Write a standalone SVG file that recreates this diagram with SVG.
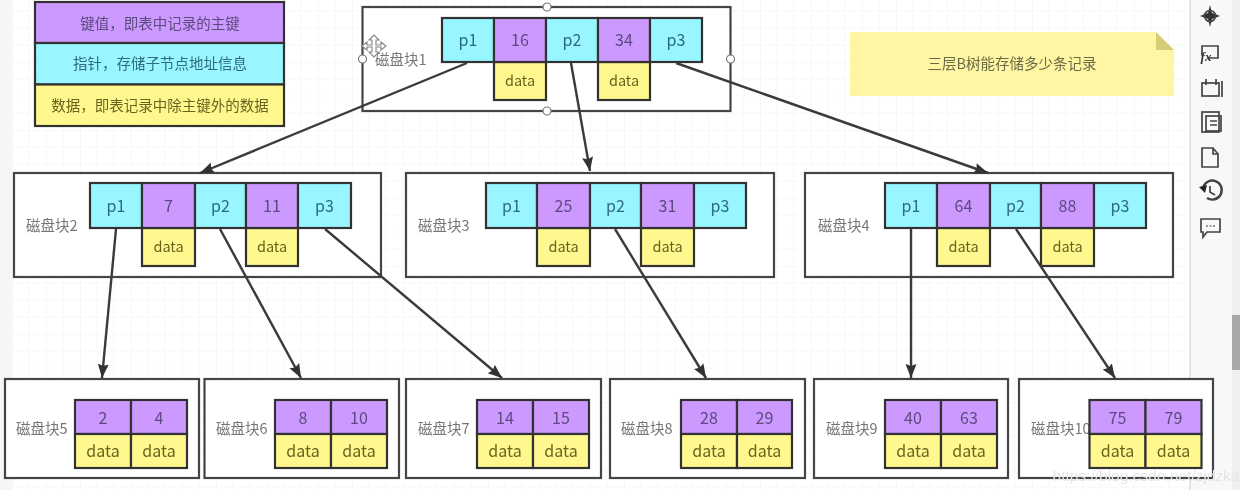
<svg xmlns="http://www.w3.org/2000/svg" width="1240" height="490" viewBox="0 0 1240 490">
<style>
text{font-family:"Noto Sans CJK SC","Noto Sans",sans-serif;text-anchor:middle;dominant-baseline:central;font-size:14.5px;transform:translateY(-1.5px)}
.box{fill:#fff;stroke:#444;stroke-width:2.2}
.k,.p,.d{stroke:#333;stroke-width:2.2}
.k{fill:#cc99ff}.p{fill:#99f5ff}.d{fill:#fff88f}
.tk{fill:#5b4a80}.tp{fill:#2c6c7c}.td{fill:#69631f}
.tl{fill:#757575;text-anchor:start}
.big{font-size:16px}
.e{stroke:#3a3a3a;stroke-width:2.4;fill:none;marker-end:url(#a)}
.h{fill:#fff;stroke:#777;stroke-width:1.2}
.i{fill:none;stroke:#444;stroke-width:1.7}
</style>
<defs>
<marker id="a" markerUnits="userSpaceOnUse" markerWidth="16" markerHeight="14" refX="14" refY="6" orient="auto"><path d="M0 0.500L14 6L0 11.500L2 6Z" fill="#333"/></marker>
<pattern id="g" x="12" y="-6" width="68" height="68" patternUnits="userSpaceOnUse">
<path d="M17 0V68M34 0V68M51 0V68M0 17H68M0 34H68M0 51H68" fill="none" stroke="#f7f7f7" stroke-width="1"/>
<path d="M0 0V68M0 0H68" fill="none" stroke="#efefef" stroke-width="1"/>
</pattern>
<filter id="b" x="0" y="0" width="100%" height="100%"><feGaussianBlur stdDeviation="0.5"/></filter>
</defs>
<g filter="url(#b)">
<rect width="1240" height="490" fill="#fff"/>
<rect x="12" width="1178" height="490" fill="url(#g)"/>
<rect width="12" height="490" fill="#f6f6f6"/>
<rect x="1190" width="42" height="490" fill="#f8f8f8"/>
<path d="M1190 0V490" stroke="#dcdcdc" stroke-width="1.500"/>
<rect x="1232" width="8" height="490" fill="#efefef"/>
<rect x="1232" y="315" width="8" height="55" fill="#a8a8a8"/>

<g id="legend">
<rect class="k" x="35" y="2" width="249" height="41"/><text class="tk" x="160" y="24">键值，即表中记录的主键</text>
<rect class="p" x="35" y="43" width="249" height="41.500"/><text class="tp" x="160" y="64">指针，存储子节点地址信息</text>
<rect class="d" x="35" y="84.500" width="249" height="41.500"/><text class="td" x="160" y="106">数据，即表记录中除主键外的数据</text>
</g>

<g id="note">
<path d="M850 32H1156L1174 50V96H850Z" fill="#fff6a3"/>
<path d="M1156 32L1174 50H1156Z" fill="#d6cd78"/>
<text x="1012" y="64" fill="#6a6a45">三层B树能存储多少条记录</text>
</g>

<g id="block1">
<rect class="box" x="362.500" y="7" width="368" height="104"/>
<text class="tl" x="375" y="60">磁盘块1</text>
<rect class="d" x="494" y="62" width="52" height="38"/><text class="td" x="520" y="81">data</text>
<rect class="d" x="598" y="62" width="52" height="38"/><text class="td" x="624" y="81">data</text>
<rect class="p" x="442" y="18" width="52" height="44"/><text class="tp big" x="468" y="40">p1</text>
<rect class="k" x="494" y="18" width="52" height="44"/><text class="tk big" x="520" y="40">16</text>
<rect class="p" x="546" y="18" width="52" height="44"/><text class="tp big" x="572" y="40">p2</text>
<rect class="k" x="598" y="18" width="52" height="44"/><text class="tk big" x="624" y="40">34</text>
<rect class="p" x="650" y="18" width="52" height="44"/><text class="tp big" x="676" y="40">p3</text>
<circle class="h" cx="547" cy="7" r="4"/><circle class="h" cx="547" cy="111" r="4"/><circle class="h" cx="362.500" cy="59" r="4"/><circle class="h" cx="730.500" cy="59" r="4"/>
<path d="M374 35l5 5h-3v5h5v-3l5 4-5 4v-3h-5v5h3l-5 5-5-5h3v-5h-5v3l-5-4 5-4v3h5v-5h-3Z" fill="#fff" stroke="#888" stroke-width="1.200"/>
</g>

<g id="block2">
<rect class="box" x="14" y="173" width="367" height="104"/>
<text class="tl" x="26" y="226">磁盘块2</text>
<rect class="d" x="142" y="228" width="53" height="38"/><text class="td" x="168.500" y="247">data</text>
<rect class="d" x="246" y="228" width="52" height="38"/><text class="td" x="272" y="247">data</text>
<rect class="p" x="90" y="183" width="52" height="45"/><text class="tp big" x="116" y="206">p1</text>
<rect class="k" x="142" y="183" width="53" height="45"/><text class="tk big" x="168.500" y="206">7</text>
<rect class="p" x="195" y="183" width="51" height="45"/><text class="tp big" x="220.500" y="206">p2</text>
<rect class="k" x="246" y="183" width="52" height="45"/><text class="tk big" x="272" y="206">11</text>
<rect class="p" x="298" y="183" width="53" height="45"/><text class="tp big" x="324.500" y="206">p3</text>
</g>

<g id="block3">
<rect class="box" x="406" y="173" width="368" height="104"/>
<text class="tl" x="418" y="226">磁盘块3</text>
<rect class="d" x="537" y="228" width="53" height="38"/><text class="td" x="563.500" y="247">data</text>
<rect class="d" x="641" y="228" width="53" height="38"/><text class="td" x="667.500" y="247">data</text>
<rect class="p" x="486" y="183" width="51" height="45"/><text class="tp big" x="511.500" y="206">p1</text>
<rect class="k" x="537" y="183" width="53" height="45"/><text class="tk big" x="563.500" y="206">25</text>
<rect class="p" x="590" y="183" width="51" height="45"/><text class="tp big" x="615.500" y="206">p2</text>
<rect class="k" x="641" y="183" width="53" height="45"/><text class="tk big" x="667.500" y="206">31</text>
<rect class="p" x="694" y="183" width="52" height="45"/><text class="tp big" x="720" y="206">p3</text>
</g>

<g id="block4">
<rect class="box" x="805" y="173" width="368" height="104"/>
<text class="tl" x="818" y="226">磁盘块4</text>
<rect class="d" x="937" y="228" width="53" height="38"/><text class="td" x="963.500" y="247">data</text>
<rect class="d" x="1041" y="228" width="53" height="38"/><text class="td" x="1067.500" y="247">data</text>
<rect class="p" x="885" y="183" width="52" height="45"/><text class="tp big" x="911" y="206">p1</text>
<rect class="k" x="937" y="183" width="53" height="45"/><text class="tk big" x="963.500" y="206">64</text>
<rect class="p" x="990" y="183" width="51" height="45"/><text class="tp big" x="1015.500" y="206">p2</text>
<rect class="k" x="1041" y="183" width="53" height="45"/><text class="tk big" x="1067.500" y="206">88</text>
<rect class="p" x="1094" y="183" width="52" height="45"/><text class="tp big" x="1120" y="206">p3</text>
</g>

<g id="block5">
<rect class="box" x="5" y="379" width="194" height="99"/>
<text class="tl" x="16" y="429">磁盘块5</text>
<rect class="k" x="75" y="400" width="56" height="34"/><text class="tk big" x="103" y="418">2</text>
<rect class="k" x="131" y="400" width="56" height="34"/><text class="tk big" x="159" y="418">4</text>
<rect class="d" x="75" y="434" width="56" height="34"/><text class="td big" x="103" y="451">data</text>
<rect class="d" x="131" y="434" width="56" height="34"/><text class="td big" x="159" y="451">data</text>
</g>
<g id="block6">
<rect class="box" x="204.500" y="379" width="194.500" height="99"/>
<text class="tl" x="216" y="429">磁盘块6</text>
<rect class="k" x="275" y="400" width="56" height="34"/><text class="tk big" x="303" y="418">8</text>
<rect class="k" x="331" y="400" width="56" height="34"/><text class="tk big" x="359" y="418">10</text>
<rect class="d" x="275" y="434" width="56" height="34"/><text class="td big" x="303" y="451">data</text>
<rect class="d" x="331" y="434" width="56" height="34"/><text class="td big" x="359" y="451">data</text>
</g>
<g id="block7">
<rect class="box" x="406" y="379" width="195" height="99"/>
<text class="tl" x="418" y="429">磁盘块7</text>
<rect class="k" x="477" y="400" width="56" height="34"/><text class="tk big" x="505" y="418">14</text>
<rect class="k" x="533" y="400" width="56" height="34"/><text class="tk big" x="561" y="418">15</text>
<rect class="d" x="477" y="434" width="56" height="34"/><text class="td big" x="505" y="451">data</text>
<rect class="d" x="533" y="434" width="56" height="34"/><text class="td big" x="561" y="451">data</text>
</g>
<g id="block8">
<rect class="box" x="610" y="379" width="195" height="99"/>
<text class="tl" x="621" y="429">磁盘块8</text>
<rect class="k" x="681" y="400" width="56" height="34"/><text class="tk big" x="709" y="418">28</text>
<rect class="k" x="737" y="400" width="55" height="34"/><text class="tk big" x="764.500" y="418">29</text>
<rect class="d" x="681" y="434" width="56" height="34"/><text class="td big" x="709" y="451">data</text>
<rect class="d" x="737" y="434" width="55" height="34"/><text class="td big" x="764.500" y="451">data</text>
</g>
<g id="block9">
<rect class="box" x="814" y="379" width="194" height="99"/>
<text class="tl" x="826" y="429">磁盘块9</text>
<rect class="k" x="885" y="400" width="56" height="34"/><text class="tk big" x="913" y="418">40</text>
<rect class="k" x="941" y="400" width="56" height="34"/><text class="tk big" x="969" y="418">63</text>
<rect class="d" x="885" y="434" width="56" height="34"/><text class="td big" x="913" y="451">data</text>
<rect class="d" x="941" y="434" width="56" height="34"/><text class="td big" x="969" y="451">data</text>
</g>
<g id="block10">
<rect class="box" x="1019" y="379" width="194" height="99"/>
<text class="tl" x="1031" y="429">磁盘块10</text>
<rect class="k" x="1089.500" y="400" width="56" height="34"/><text class="tk big" x="1117.500" y="418">75</text>
<rect class="k" x="1145.500" y="400" width="56" height="34"/><text class="tk big" x="1173.500" y="418">79</text>
<rect class="d" x="1089.500" y="434" width="56" height="34"/><text class="td big" x="1117.500" y="451">data</text>
<rect class="d" x="1145.500" y="434" width="56" height="34"/><text class="td big" x="1173.500" y="451">data</text>
</g>

<g id="connectors">
<path class="e" d="M467 63L200 173"/>
<path class="e" d="M571 63L590 171"/>
<path class="e" d="M676 63L988 173"/>
<path class="e" d="M116 229L102 378"/>
<path class="e" d="M220 229L301 378"/>
<path class="e" d="M325 229L502 378"/>
<path class="e" d="M615 229L706 378"/>
<path class="e" d="M911 229V378"/>
<path class="e" d="M1016 229L1115 378"/>
</g>

<g id="toolbar">
<path d="M1210 5l2 8 8 3-8 3-2 8-2-8-8-3 8-3Z" fill="#333"/>
<circle class="i" cx="1210" cy="16" r="5.500"/>
<circle cx="1210" cy="16" r="2.200" fill="#333"/>
<path class="i" d="M1202 55V46H1218V58H1208"/><text x="1206" y="58" font-style="italic" fill="#333" style="font-family:'Liberation Serif',serif;font-size:13px;font-weight:bold">fx</text>
<rect class="i" x="1202" y="83" width="17" height="13"/><path class="i" d="M1206 79V85M1216 79V85M1222 81V97"/>
<rect class="i" x="1202" y="112" width="17" height="20"/><rect class="i" x="1206" y="116" width="15" height="15" fill="#f8f8f8"/><path class="i" d="M1210 121H1217M1210 125H1217"/>
<path class="i" d="M1202 148H1213L1218 154V167H1202Z"/><path class="i" d="M1213 148V154H1218"/>
<path class="i" d="M1203 188A9.500 9.500 0 1 1 1207 198" style="stroke-width:2.400"/><path d="M1199 187L1207 185L1205 193Z" fill="#222"/><path class="i" d="M1210 186V192L1215 195"/>
<path class="i" d="M1201 219H1220V232H1207L1203 237V232H1201Z"/><path d="M1206 226H1215" stroke="#777" stroke-width="1.500" stroke-dasharray="2 1.500"/>
</g>
<text x="1146" y="477" fill="#e6e6e6" style="font-size:15.500px;font-family:'Liberation Sans',sans-serif">https://blog.csdn.net/zjdzka</text>
</g>
</svg>
